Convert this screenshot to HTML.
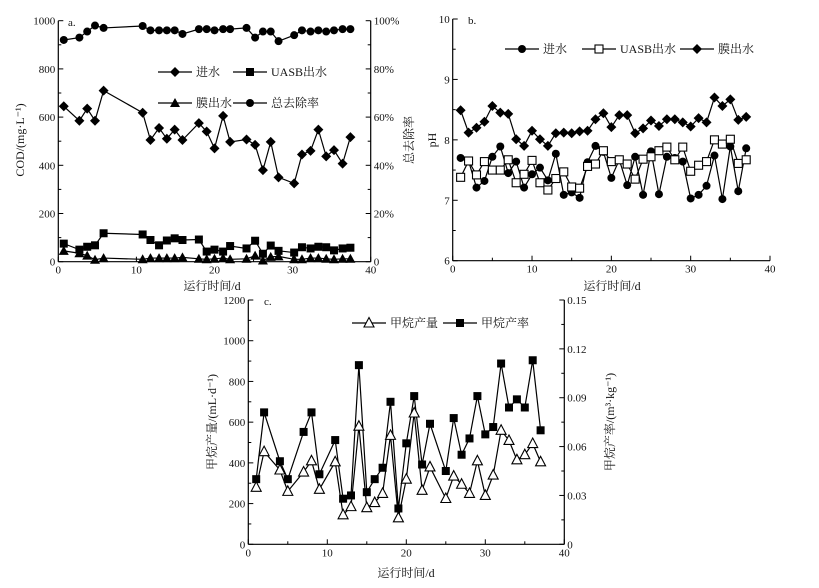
<!DOCTYPE html>
<html><head><meta charset="utf-8">
<style>
html,body{margin:0;padding:0;background:#fff;}
svg{display:block;}
text{font-family:"Liberation Serif","Noto Serif CJK SC",serif;fill:#111;}
</style></head>
<body>
<svg id="chart" width="819" height="588" viewBox="0 0 819 588" xmlns="http://www.w3.org/2000/svg"></svg>
<script>
// ---- Panel a data ----
const aDays = [0.7,2.7,3.7,4.7,5.8,10.8,11.8,12.9,13.9,14.9,15.9,18,19,20,21.1,22,24.1,25.2,26.2,27.2,28.2,30.2,31.2,32.3,33.3,34.3,35.3,36.4,37.4];
const aInflow = [645,585,635,585,710,618,505,555,510,548,505,575,540,470,605,497,507,485,380,497,350,325,445,460,548,437,463,407,517];
const aUasb = [75,50,62,68,118,113,90,68,88,97,90,92,42,50,42,65,55,87,33,67,45,38,60,55,62,60,47,55,58];
const aMembrane = [45,35,25,8,15,10,15,15,15,15,18,12,10,12,15,10,12,25,5,20,22,10,10,15,15,12,10,12,12];
const aRemoval = [92,93,95.5,98,97,97.8,96,96,96,96,94.5,96.5,96.5,96,96.5,96.5,97,93,95.5,95.5,91.5,94,96,95.5,96,95.5,96,96.5,96.5];
const aLeftTicks = ["0","200","400","600","800","1000"];
const aRightTicks = ["0","20%","40%","60%","80%","100%"];
// ---- Panel b data ----
const bDays = [1,2,3,4,5,6,7,8,9,10,11,12,13,14,15,16,17,18,19,20,21,22,23,24,25,26,27,28,29,30,31,32,33,34,35,36,37];
const bInflow = [7.7,7.65,7.21,7.32,7.72,7.89,7.45,7.64,7.21,7.43,7.54,7.33,7.77,7.09,7.13,7.04,7.63,7.9,7.8,7.37,7.67,7.25,7.72,7.09,7.81,7.1,7.72,7.7,7.64,7.03,7.09,7.24,7.74,7.02,7.89,7.15,7.86];
const bUasb = [7.38,7.65,7.42,7.64,7.5,7.5,7.67,7.29,7.43,7.66,7.29,7.17,7.36,7.47,7.22,7.2,7.56,7.6,7.82,7.64,7.67,7.6,7.35,7.68,7.72,7.82,7.88,7.67,7.88,7.48,7.58,7.64,8.0,7.93,8.01,7.61,7.67];
const bMembrane = [8.49,8.12,8.2,8.3,8.56,8.45,8.43,8.01,7.9,8.15,8.01,7.9,8.11,8.12,8.11,8.14,8.15,8.34,8.44,8.21,8.41,8.41,8.11,8.19,8.32,8.23,8.34,8.34,8.29,8.22,8.36,8.29,8.7,8.56,8.67,8.33,8.38];
const bTicks = ["6","7","8","9","10"];
// ---- Panel c data ----
const cDays = [1,2,4,5,7,8,9,11,12,13,14,15,16,17,18,19,20,21,22,23,25,26,27,28,29,30,31,32,33,34,35,36,37];
const cProduction = [280,455,365,260,355,410,270,405,145,185,580,180,205,250,535,130,320,645,265,380,225,335,295,250,410,240,340,560,510,415,440,495,405];
const cRate = [0.040,0.081,0.051,0.040,0.069,0.081,0.043,0.064,0.028,0.030,0.110,0.032,0.040,0.047,0.0875,0.022,0.062,0.091,0.049,0.074,0.045,0.0775,0.055,0.065,0.091,0.0675,0.072,0.111,0.084,0.089,0.084,0.113,0.070];
const cLeftTicks = ["0","200","400","600","800","1000","1200"];
const cRightTicks = ["0","0.03","0.06","0.09","0.12","0.15"];
const xTicks = ["0","10","20","30","40"];

const NS = "http://www.w3.org/2000/svg";
const svg = document.getElementById('chart');
function el(tag, attrs, parent){
  const e = document.createElementNS(NS, tag);
  for (const k in attrs) e.setAttribute(k, attrs[k]);
  (parent||svg).appendChild(e);
  return e;
}
function txt(s, x, y, anchor, size, parent, rot){
  const t = el('text', {x:x, y:y, 'text-anchor':anchor||'middle', 'font-size':size||11}, parent);
  if (rot) t.setAttribute('transform', 'rotate('+rot+' '+x+' '+y+')');
  t.textContent = s;
  return t;
}
function marker(type, x, y, g){
  let m;
  if (type==='diamond') m = el('polygon', {points:(x)+','+(y-5)+' '+(x+5)+','+y+' '+x+','+(y+5)+' '+(x-5)+','+y, fill:'#000'}, g);
  else if (type==='square') m = el('rect', {x:x-4, y:y-4, width:8, height:8, fill:'#000'}, g);
  else if (type==='osquare') m = el('rect', {x:x-4, y:y-4, width:8, height:8, fill:'#fff', stroke:'#000', 'stroke-width':1.1}, g);
  else if (type==='triangle') m = el('polygon', {points:x+','+(y-5)+' '+(x+5)+','+(y+4)+' '+(x-5)+','+(y+4), fill:'#000'}, g);
  else if (type==='otriangle') m = el('polygon', {points:x+','+(y-5.5)+' '+(x+5)+','+(y+4)+' '+(x-5)+','+(y+4), fill:'#fff', stroke:'#000', 'stroke-width':1.1}, g);
  else m = el('circle', {cx:x, cy:y, r:4, fill:'#000'}, g);
  return m;
}
function series(name, xs, ys, sx, sy, type){
  const g = el('g', {});
  
  
  const pts = xs.map((d,i)=>sx(d)+','+sy(ys[i])).join(' ');
  el('polyline', {points:pts, fill:'none', stroke:'#000', 'stroke-width':1.2}, g);
  xs.forEach((d,i)=>{
    const m = marker(type, sx(d), sy(ys[i]), g);
    
    
  });
}
function legendItem(name, x, y, type, label){
  const g = el('g', {});
  
  
  el('line', {x1:x-17, y1:y, x2:x+17, y2:y, stroke:'#000', 'stroke-width':1.2}, g);
  marker(type, x, y, g);
  txt(label, x+21, y+4, 'start', 12, g);
}
function vAxis(name, x, y0, y1, labels, minorPerMajor, side, dir){
  const g = el('g', {});
  
  
  el('line', {x1:x, y1:y0, x2:x, y2:y1, stroke:'#000', 'stroke-width':1.2}, g);
  const n = labels.length-1;
  const total = n*minorPerMajor;
  for (let i=0;i<=total;i++){
    const y = y0 + (y1-y0)*i/total;
    const major = i%minorPerMajor===0;
    const len = major?5:3;
    el('line', {x1:x, y1:y, x2:x+dir*len, y2:y, stroke:'#000', 'stroke-width':1}, g);
    if (major){
      const lab = labels[i/minorPerMajor];
      if (side==='left') txt(lab, x-3, y+4, 'end', 11, g);
      else txt(lab, x+3, y+4, 'start', 11, g);
    }
  }
}
function hAxis(name, y, x0, x1){
  const g = el('g', {});
  
  
  el('line', {x1:x0, y1:y, x2:x1, y2:y, stroke:'#000', 'stroke-width':1.2}, g);
  for (let i=0;i<=8;i++){
    const x = x0+(x1-x0)*i/8;
    el('line', {x1:x, y1:y, x2:x, y2:y-(i%2===0?5:3), stroke:'#000', 'stroke-width':1}, g);
    if (i%2===0) txt(xTicks[i/2], x, y+12, 'middle', 11, g);
  }
}

// ===== Panel a =====
const ax0=58.3, ax1=370.7, ay0=261.7, ay1=20.7;
const aX = d=>ax0+(ax1-ax0)*d/40;
const aY = v=>ay0+(ay1-ay0)*v/1000;
const aYp = p=>ay0+(ay1-ay0)*p/100;
vAxis('panel-a-left-axis', ax0, ay0, ay1, aLeftTicks, 2, 'left', 1);
vAxis('panel-a-right-axis', ax1, ay0, ay1, aRightTicks, 2, 'right', -1);
hAxis('panel-a-x-axis', ay0, ax0, ax1);
series('panel-a-removal-rate', aDays, aRemoval, aX, aYp, 'circle');
series('panel-a-inflow', aDays, aInflow, aX, aY, 'diamond');
series('panel-a-uasb', aDays, aUasb, aX, aY, 'square');
series('panel-a-membrane', aDays, aMembrane, aX, aY, 'triangle');
txt('a.', 68, 26, 'start', 11);
legendItem('legend-a-inflow', 175, 72, 'diamond', '进水');
legendItem('legend-a-uasb', 250, 72, 'square', 'UASB出水');
legendItem('legend-a-membrane', 175, 103, 'triangle', '膜出水');
legendItem('legend-a-removal', 250, 103, 'circle', '总去除率');
txt('COD/(mg·L⁻¹)', 24, 140, 'middle', 12, null, -90);
txt('总去除率', 413, 140, 'middle', 12, null, -90);
txt('运行时间/d', 212, 290, 'middle', 12);

// ===== Panel b =====
const bx0=452.7, bx1=770, by0=260.7, by1=19;
const bX = d=>bx0+(bx1-bx0)*d/40;
const bY = v=>by0+(by1-by0)*(v-6)/4;
vAxis('panel-b-y-axis', bx0, by0, by1, bTicks, 2, 'left', 1);
hAxis('panel-b-x-axis', by0, bx0, bx1);
series('panel-b-inflow', bDays, bInflow, bX, bY, 'circle');
series('panel-b-uasb', bDays, bUasb, bX, bY, 'osquare');
series('panel-b-membrane', bDays, bMembrane, bX, bY, 'diamond');
txt('b.', 468, 24, 'start', 11);
legendItem('legend-b-inflow', 522, 49, 'circle', '进水');
legendItem('legend-b-uasb', 599, 49, 'osquare', 'UASB出水');
legendItem('legend-b-membrane', 697, 49, 'diamond', '膜出水');
txt('pH', 436, 140, 'middle', 12, null, -90);
txt('运行时间/d', 612, 290, 'middle', 12);

// ===== Panel c =====
const cx0=248.3, cx1=564.3, cy0=544.3, cy1=300;
const cX = d=>cx0+(cx1-cx0)*d/40;
const cY = v=>cy0+(cy1-cy0)*v/1200;
const cY2 = v=>cy0+(cy1-cy0)*v/0.15;
vAxis('panel-c-left-axis', cx0, cy0, cy1, cLeftTicks, 2, 'left', 1);
vAxis('panel-c-right-axis', cx1, cy0, cy1, cRightTicks, 2, 'right', -1);
hAxis('panel-c-x-axis', cy0, cx0, cx1);
series('panel-c-methane-rate', cDays, cRate, cX, cY2, 'square');
series('panel-c-methane-production', cDays, cProduction, cX, cY, 'otriangle');
txt('c.', 264, 305, 'start', 11);
legendItem('legend-c-production', 369, 323, 'otriangle', '甲烷产量');
legendItem('legend-c-rate', 460, 323, 'square', '甲烷产率');
txt('甲烷产量/(mL·d⁻¹)', 216, 422, 'middle', 12, null, -90);
txt('甲烷产率/(m³·kg⁻¹)', 614, 422, 'middle', 12, null, -90);
txt('运行时间/d', 406, 577, 'middle', 12);
</script>
</body></html>
